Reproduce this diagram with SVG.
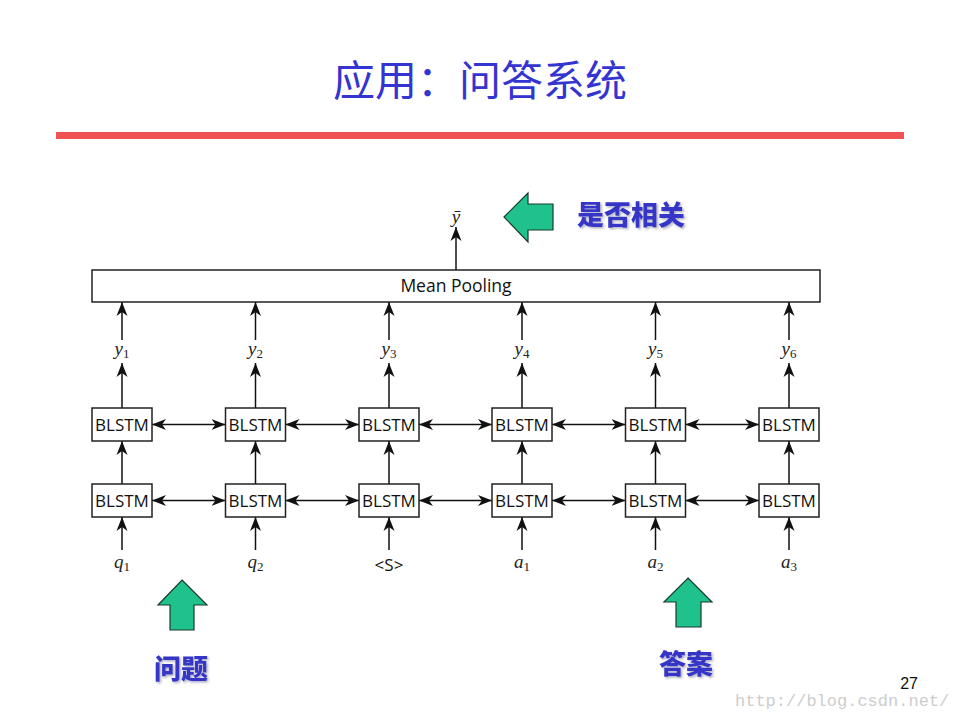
<svg xmlns="http://www.w3.org/2000/svg" width="960" height="720" viewBox="0 0 960 720">
<style>
.box{fill:#fff;stroke:#222;stroke-width:1.5}
.lbl{font-family:"Open Sans","DejaVu Sans",sans-serif;font-size:17px;fill:#111;text-anchor:middle}
.mp{font-size:17.5px}
.math{font-family:"Liberation Serif","DejaVu Serif",serif;font-style:italic;font-size:19px;fill:#222;text-anchor:middle}
.sub{font-style:normal;font-size:13px}
.con{stroke:#111;stroke-width:1.5;fill:none}
.cjk{font-family:"Noto Sans CJK SC",sans-serif;font-weight:900;font-size:27px;fill:#3535c8;filter:url(#sh)}
.green{fill:#1fc28c;stroke:#1a3a2a;stroke-width:1.2}
</style>
<defs>
<marker id="ah" viewBox="0 0 14 12" refX="14" refY="6" markerWidth="14" markerHeight="12" markerUnits="userSpaceOnUse" orient="auto-start-reverse">
<path d="M0,0.5 L14,6 L0,11.5 L4,6 z" fill="#111"/>
</marker>
<filter id="sh" x="-10%" y="-10%" width="130%" height="140%">
<feDropShadow dx="1.5" dy="1.5" stdDeviation="1" flood-color="#9a9ab0" flood-opacity="0.8"/>
</filter>
</defs>
<rect width="960" height="720" fill="#fff"/>
<text x="480" y="96" text-anchor="middle" font-family="Noto Sans CJK SC, sans-serif" font-size="42" fill="#3434d0">应用：问答系统</text>
<rect x="56" y="132" width="848" height="7" fill="#f05252"/>

<g id="connectors">
<line class="con" x1="456" y1="270" x2="456" y2="227" marker-end="url(#ah)"/>
<g id="col-arrows">
<line class="con" x1="122" y1="550" x2="122" y2="517" marker-end="url(#ah)"/>
<line class="con" x1="122" y1="484" x2="122" y2="441" marker-end="url(#ah)"/>
<line class="con" x1="122" y1="408" x2="122" y2="363" marker-end="url(#ah)"/>
<line class="con" x1="122" y1="340" x2="122" y2="302" marker-end="url(#ah)"/>
<line class="con" x1="255.5" y1="550" x2="255.5" y2="517" marker-end="url(#ah)"/>
<line class="con" x1="255.5" y1="484" x2="255.5" y2="441" marker-end="url(#ah)"/>
<line class="con" x1="255.5" y1="408" x2="255.5" y2="363" marker-end="url(#ah)"/>
<line class="con" x1="255.5" y1="340" x2="255.5" y2="302" marker-end="url(#ah)"/>
<line class="con" x1="389" y1="550" x2="389" y2="517" marker-end="url(#ah)"/>
<line class="con" x1="389" y1="484" x2="389" y2="441" marker-end="url(#ah)"/>
<line class="con" x1="389" y1="408" x2="389" y2="363" marker-end="url(#ah)"/>
<line class="con" x1="389" y1="340" x2="389" y2="302" marker-end="url(#ah)"/>
<line class="con" x1="522" y1="550" x2="522" y2="517" marker-end="url(#ah)"/>
<line class="con" x1="522" y1="484" x2="522" y2="441" marker-end="url(#ah)"/>
<line class="con" x1="522" y1="408" x2="522" y2="363" marker-end="url(#ah)"/>
<line class="con" x1="522" y1="340" x2="522" y2="302" marker-end="url(#ah)"/>
<line class="con" x1="655.5" y1="550" x2="655.5" y2="517" marker-end="url(#ah)"/>
<line class="con" x1="655.5" y1="484" x2="655.5" y2="441" marker-end="url(#ah)"/>
<line class="con" x1="655.5" y1="408" x2="655.5" y2="363" marker-end="url(#ah)"/>
<line class="con" x1="655.5" y1="340" x2="655.5" y2="302" marker-end="url(#ah)"/>
<line class="con" x1="789" y1="550" x2="789" y2="517" marker-end="url(#ah)"/>
<line class="con" x1="789" y1="484" x2="789" y2="441" marker-end="url(#ah)"/>
<line class="con" x1="789" y1="408" x2="789" y2="363" marker-end="url(#ah)"/>
<line class="con" x1="789" y1="340" x2="789" y2="302" marker-end="url(#ah)"/>
</g>
<g id="row-arrows">
<line class="con" x1="152" y1="424.5" x2="225.5" y2="424.5" marker-start="url(#ah)" marker-end="url(#ah)"/>
<line class="con" x1="285.5" y1="424.5" x2="359" y2="424.5" marker-start="url(#ah)" marker-end="url(#ah)"/>
<line class="con" x1="419" y1="424.5" x2="492" y2="424.5" marker-start="url(#ah)" marker-end="url(#ah)"/>
<line class="con" x1="552" y1="424.5" x2="625.5" y2="424.5" marker-start="url(#ah)" marker-end="url(#ah)"/>
<line class="con" x1="685.5" y1="424.5" x2="759" y2="424.5" marker-start="url(#ah)" marker-end="url(#ah)"/>
<line class="con" x1="152" y1="500.5" x2="225.5" y2="500.5" marker-start="url(#ah)" marker-end="url(#ah)"/>
<line class="con" x1="285.5" y1="500.5" x2="359" y2="500.5" marker-start="url(#ah)" marker-end="url(#ah)"/>
<line class="con" x1="419" y1="500.5" x2="492" y2="500.5" marker-start="url(#ah)" marker-end="url(#ah)"/>
<line class="con" x1="552" y1="500.5" x2="625.5" y2="500.5" marker-start="url(#ah)" marker-end="url(#ah)"/>
<line class="con" x1="685.5" y1="500.5" x2="759" y2="500.5" marker-start="url(#ah)" marker-end="url(#ah)"/>
</g>
</g>

<g id="mean-pooling"><rect class="box" x="92" y="270" width="728" height="32"/><text class="lbl mp" x="456" y="292">Mean Pooling</text></g>
<g id="ybar"><text class="math" x="456" y="223">ȳ</text></g>

<g id="b2-1"><rect class="box" x="92" y="408" width="60" height="33"/><text class="lbl" x="122" y="430.5">BLSTM</text></g>
<g id="b2-2"><rect class="box" x="225.5" y="408" width="60" height="33"/><text class="lbl" x="255.5" y="430.5">BLSTM</text></g>
<g id="b2-3"><rect class="box" x="359" y="408" width="60" height="33"/><text class="lbl" x="389" y="430.5">BLSTM</text></g>
<g id="b2-4"><rect class="box" x="492" y="408" width="60" height="33"/><text class="lbl" x="522" y="430.5">BLSTM</text></g>
<g id="b2-5"><rect class="box" x="625.5" y="408" width="60" height="33"/><text class="lbl" x="655.5" y="430.5">BLSTM</text></g>
<g id="b2-6"><rect class="box" x="759" y="408" width="60" height="33"/><text class="lbl" x="789" y="430.5">BLSTM</text></g>

<g id="b1-1"><rect class="box" x="92" y="484" width="60" height="33"/><text class="lbl" x="122" y="506.5">BLSTM</text></g>
<g id="b1-2"><rect class="box" x="225.5" y="484" width="60" height="33"/><text class="lbl" x="255.5" y="506.5">BLSTM</text></g>
<g id="b1-3"><rect class="box" x="359" y="484" width="60" height="33"/><text class="lbl" x="389" y="506.5">BLSTM</text></g>
<g id="b1-4"><rect class="box" x="492" y="484" width="60" height="33"/><text class="lbl" x="522" y="506.5">BLSTM</text></g>
<g id="b1-5"><rect class="box" x="625.5" y="484" width="60" height="33"/><text class="lbl" x="655.5" y="506.5">BLSTM</text></g>
<g id="b1-6"><rect class="box" x="759" y="484" width="60" height="33"/><text class="lbl" x="789" y="506.5">BLSTM</text></g>

<g id="outputs">
<text class="math" x="122" y="355">y<tspan class="sub" dy="3">1</tspan></text>
<text class="math" x="255.5" y="355">y<tspan class="sub" dy="3">2</tspan></text>
<text class="math" x="389" y="355">y<tspan class="sub" dy="3">3</tspan></text>
<text class="math" x="522" y="355">y<tspan class="sub" dy="3">4</tspan></text>
<text class="math" x="655.5" y="355">y<tspan class="sub" dy="3">5</tspan></text>
<text class="math" x="789" y="355">y<tspan class="sub" dy="3">6</tspan></text>
</g>
<g id="inputs">
<text class="math" x="122" y="568">q<tspan class="sub" dy="3">1</tspan></text>
<text class="math" x="255.5" y="568">q<tspan class="sub" dy="3">2</tspan></text>
<text class="lbl" x="389" y="571">&lt;S&gt;</text>
<text class="math" x="522" y="568">a<tspan class="sub" dy="3">1</tspan></text>
<text class="math" x="655.5" y="568">a<tspan class="sub" dy="3">2</tspan></text>
<text class="math" x="789" y="568">a<tspan class="sub" dy="3">3</tspan></text>
</g>

<g id="relevance">
<path class="green" d="M504,217 L528,193 L528,204 L553,204 L553,230 L528,230 L528,242 Z"/>
<text class="cjk" x="577" y="225">是否相关</text>
</g>
<g id="question">
<path class="green" d="M182,580 L207,605 L194,605 L194,630 L170,630 L170,605 L158,605 Z"/>
<text class="cjk" x="154" y="679">问题</text>
</g>
<g id="answer">
<path class="green" d="M688,578 L712,602 L701,602 L701,627 L676,627 L676,602 L664,602 Z"/>
<text class="cjk" x="659" y="674">答案</text>
</g>

<text x="735" y="706" font-family="Liberation Mono, monospace" font-size="17" fill="#cdcdcd">http://blog.csdn.net/</text>
<text x="918" y="689" text-anchor="end" font-family="Liberation Sans, sans-serif" font-size="16" fill="#111">27</text>
</svg>
